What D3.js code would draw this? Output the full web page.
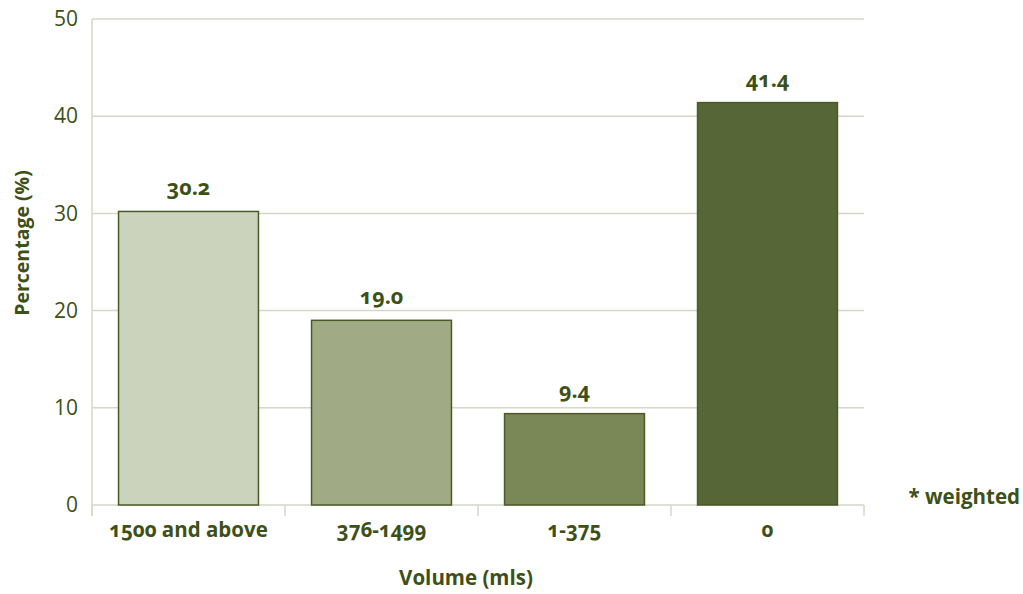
<!DOCTYPE html>
<html>
<head>
<meta charset="utf-8">
<script src="https://cdn.jsdelivr.net/npm/d3@7"></script>
<style>
  html, body { margin: 0; padding: 0; background: #ffffff; }
  svg { display: block; font-family: "Open Sans", "Lato", sans-serif; }
  .onum { font-feature-settings: "onum" 1; font-variant-numeric: oldstyle-nums; }
</style>
</head>
<body>
<svg id="chart" width="1023" height="594"></svg>
<script>
// Drinking volume categories and weighted percentages
const categories = ["1500 and above", "376-1499", "1-375", "0"];
const percentages = [30.2, 19.0, 9.4, 41.4];
const barColors = ["#cbd3bd", "#a0ab86", "#7a8858", "#566636"];
const yTicks = [0, 10, 20, 30, 40, 50];

const textColor = "#3d5016";
const gridColor = "#d3d8c8";

const svg = d3.select("#chart");
const margin = { left: 92, right: 159, top: 19, bottom: 89 };
const width = 1023 - margin.left - margin.right;
const height = 594 - margin.top - margin.bottom;

const g = svg.append("g").attr("transform", `translate(${margin.left},${margin.top})`);

const x = d3.scaleBand()
  .domain(categories)
  .range([0, width])
  .paddingInner(0.275)
  .paddingOuter(0.1375);

const y = d3.scaleLinear().domain([0, 50]).range([height, 0]);

// Horizontal gridlines
g.append("g")
  .selectAll("line")
  .data(yTicks)
  .join("line")
  .attr("x1", 0).attr("x2", width)
  .attr("y1", d => y(d)).attr("y2", d => y(d))
  .attr("stroke", gridColor).attr("stroke-width", 1.5);

// Y axis tick labels
const yAxis = g.append("g").call(d3.axisLeft(y).tickValues(yTicks).tickSize(0).tickPadding(14));
yAxis.select(".domain").remove();
yAxis.selectAll("text")
  .attr("fill", textColor)
  .attr("font-size", 21)
  .attr("font-family", "'Open Sans', sans-serif");

// Y axis line, extended down to the category ticks
g.append("line")
  .attr("x1", 0).attr("x2", 0)
  .attr("y1", 0).attr("y2", height + 11)
  .attr("stroke", gridColor).attr("stroke-width", 1.5);

// Category boundary ticks below the baseline
const step = x.step();
const boundaries = d3.range(categories.length + 1).map(i => i * step);
g.append("g")
  .selectAll("line")
  .data(boundaries)
  .join("line")
  .attr("x1", d => d).attr("x2", d => d)
  .attr("y1", height).attr("y2", height + 11)
  .attr("stroke", gridColor).attr("stroke-width", 1.5);

// Bars
g.append("g")
  .selectAll("rect")
  .data(percentages)
  .join("rect")
  .attr("x", (d, i) => x(categories[i]))
  .attr("y", d => y(d))
  .attr("width", x.bandwidth())
  .attr("height", d => y(0) - y(d))
  .attr("fill", (d, i) => barColors[i])
  .attr("stroke", "#4a5a26")
  .attr("stroke-width", 1.5);

// Value labels
g.append("g")
  .selectAll("text")
  .data(percentages)
  .join("text")
  .attr("class", "onum")
  .attr("x", (d, i) => x(categories[i]) + x.bandwidth() / 2)
  .attr("y", d => y(d) - 16)
  .attr("text-anchor", "middle")
  .attr("fill", textColor)
  .attr("font-size", 21.5)
  .attr("font-weight", 700)
  .text(d => d.toFixed(1));

// Category labels
const xAxis = g.append("g")
  .attr("transform", `translate(0,${height})`)
  .call(d3.axisBottom(x).tickSize(0).tickPadding(0));
xAxis.select(".domain").remove();
xAxis.selectAll("text")
  .attr("class", "onum")
  .attr("dy", null)
  .attr("y", 32)
  .attr("fill", textColor)
  .attr("font-size", 20.5)
  .attr("font-weight", 700)
  .attr("font-family", "'Open Sans', sans-serif");

// Axis titles
svg.append("text")
  .attr("x", margin.left + width / 2 - 12)
  .attr("y", 585)
  .attr("text-anchor", "middle")
  .attr("fill", textColor)
  .attr("font-size", 20.5)
  .attr("font-weight", 700)
  .text("Volume (mls)");

svg.append("text")
  .attr("transform", "translate(29,243) rotate(-90)")
  .attr("text-anchor", "middle")
  .attr("fill", textColor)
  .attr("font-size", 19.5)
  .attr("font-weight", 700)
  .text("Percentage (%)");

// Footnote
svg.append("text")
  .attr("x", 1020)
  .attr("y", 504)
  .attr("text-anchor", "end")
  .attr("fill", textColor)
  .attr("font-size", 20.5)
  .attr("font-weight", 700)
  .text("* weighted");
</script>
</body>
</html>
